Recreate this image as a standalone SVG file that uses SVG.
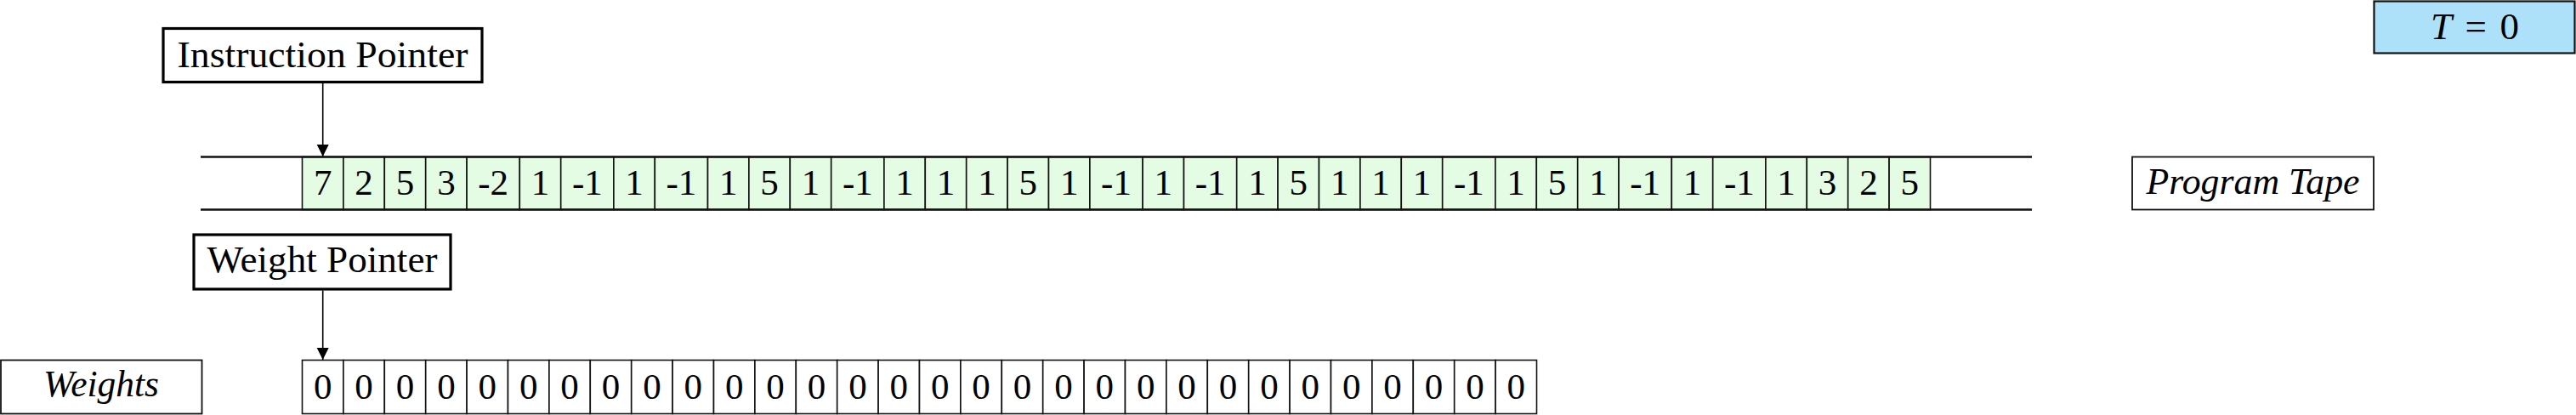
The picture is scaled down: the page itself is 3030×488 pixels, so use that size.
<svg xmlns="http://www.w3.org/2000/svg" width="3030" height="488" viewBox="0 0 3030 488">
<defs>
<style>
text{font-family:'Liberation Serif','Times New Roman',Times,serif}
.lbl{font-size:45px;fill:#000;text-anchor:middle}
.it{font-style:italic}
.num{font-size:43px;fill:#000;text-anchor:middle}
.cell{fill:#e3fce3;stroke:#111;stroke-width:1.6}
.wcell{fill:#fff;stroke:#111;stroke-width:1.6}
.tape{stroke:#111;stroke-width:2.4;fill:none}
.ptr{fill:#fff;stroke:#000;stroke-width:3.2}
.box{fill:#fff;stroke:#111;stroke-width:1.8}
.conn{stroke:#000;stroke-width:1.6;fill:none}
</style>
<marker id="ah" markerUnits="userSpaceOnUse" markerWidth="14" markerHeight="16" viewBox="0 0 14 16" refX="14" refY="7" orient="auto">
<path d="M0,0 L14,7 L0,14 Z" fill="#000"/>
</marker>
</defs>
<rect width="3030" height="488" fill="#fff"/>

<g id="time">
<rect x="2792.5" y="1.5" width="236" height="61" fill="#ade1f9" stroke="#111" stroke-width="2.2"/>
<text class="lbl" x="2911" y="46" textLength="104" lengthAdjust="spacing"><tspan class="it">T</tspan> = 0</text>
</g>

<g id="instruction-pointer">
<rect class="ptr" x="192" y="33.5" width="375" height="63"/>
<text class="lbl" x="379.5" y="79" textLength="342" lengthAdjust="spacingAndGlyphs">Instruction Pointer</text>
</g>

<g id="weight-pointer">
<rect class="ptr" x="228" y="276" width="302" height="64"/>
<text class="lbl" x="379" y="320" textLength="271" lengthAdjust="spacingAndGlyphs">Weight Pointer</text>
</g>

<g id="weights-label">
<rect class="box" x="1" y="423.5" width="236.5" height="63"/>
<text class="lbl it" x="119" y="466" textLength="136" lengthAdjust="spacingAndGlyphs">Weights</text>
</g>

<g id="program-tape-label">
<rect class="box" x="2508" y="184.5" width="284" height="62"/>
<text class="lbl it" x="2650" y="228" textLength="251" lengthAdjust="spacingAndGlyphs">Program Tape</text>
</g>

<g id="program-tape">
<rect class="cell" x="355.5" y="184.5" width="48.4" height="62"/><text class="num" x="379.7" y="229">7</text>
<rect class="cell" x="403.9" y="184.5" width="48.4" height="62"/><text class="num" x="428.1" y="229">2</text>
<rect class="cell" x="452.3" y="184.5" width="48.4" height="62"/><text class="num" x="476.5" y="229">5</text>
<rect class="cell" x="500.7" y="184.5" width="48.4" height="62"/><text class="num" x="524.9" y="229">3</text>
<rect class="cell" x="549.1" y="184.5" width="62.2" height="62"/><text class="num" x="580.2" y="229">-2</text>
<rect class="cell" x="611.3" y="184.5" width="48.4" height="62"/><text class="num" x="635.5" y="229">1</text>
<rect class="cell" x="659.7" y="184.5" width="62.2" height="62"/><text class="num" x="690.8" y="229">-1</text>
<rect class="cell" x="721.9" y="184.5" width="48.4" height="62"/><text class="num" x="746.1" y="229">1</text>
<rect class="cell" x="770.3" y="184.5" width="62.2" height="62"/><text class="num" x="801.4" y="229">-1</text>
<rect class="cell" x="832.5" y="184.5" width="48.4" height="62"/><text class="num" x="856.7" y="229">1</text>
<rect class="cell" x="880.9" y="184.5" width="48.4" height="62"/><text class="num" x="905.1" y="229">5</text>
<rect class="cell" x="929.3" y="184.5" width="48.4" height="62"/><text class="num" x="953.5" y="229">1</text>
<rect class="cell" x="977.7" y="184.5" width="62.2" height="62"/><text class="num" x="1008.8" y="229">-1</text>
<rect class="cell" x="1039.9" y="184.5" width="48.4" height="62"/><text class="num" x="1064.1" y="229">1</text>
<rect class="cell" x="1088.3" y="184.5" width="48.4" height="62"/><text class="num" x="1112.5" y="229">1</text>
<rect class="cell" x="1136.7" y="184.5" width="48.4" height="62"/><text class="num" x="1160.9" y="229">1</text>
<rect class="cell" x="1185.1" y="184.5" width="48.4" height="62"/><text class="num" x="1209.3" y="229">5</text>
<rect class="cell" x="1233.5" y="184.5" width="48.4" height="62"/><text class="num" x="1257.7" y="229">1</text>
<rect class="cell" x="1281.9" y="184.5" width="62.2" height="62"/><text class="num" x="1313.0" y="229">-1</text>
<rect class="cell" x="1344.1" y="184.5" width="48.4" height="62"/><text class="num" x="1368.3" y="229">1</text>
<rect class="cell" x="1392.5" y="184.5" width="62.2" height="62"/><text class="num" x="1423.6" y="229">-1</text>
<rect class="cell" x="1454.7" y="184.5" width="48.4" height="62"/><text class="num" x="1478.9" y="229">1</text>
<rect class="cell" x="1503.1" y="184.5" width="48.4" height="62"/><text class="num" x="1527.3" y="229">5</text>
<rect class="cell" x="1551.5" y="184.5" width="48.4" height="62"/><text class="num" x="1575.7" y="229">1</text>
<rect class="cell" x="1599.9" y="184.5" width="48.4" height="62"/><text class="num" x="1624.1" y="229">1</text>
<rect class="cell" x="1648.3" y="184.5" width="48.4" height="62"/><text class="num" x="1672.5" y="229">1</text>
<rect class="cell" x="1696.7" y="184.5" width="62.2" height="62"/><text class="num" x="1727.8" y="229">-1</text>
<rect class="cell" x="1758.9" y="184.5" width="48.4" height="62"/><text class="num" x="1783.1" y="229">1</text>
<rect class="cell" x="1807.3" y="184.5" width="48.4" height="62"/><text class="num" x="1831.5" y="229">5</text>
<rect class="cell" x="1855.7" y="184.5" width="48.4" height="62"/><text class="num" x="1879.9" y="229">1</text>
<rect class="cell" x="1904.1" y="184.5" width="62.2" height="62"/><text class="num" x="1935.2" y="229">-1</text>
<rect class="cell" x="1966.3" y="184.5" width="48.4" height="62"/><text class="num" x="1990.5" y="229">1</text>
<rect class="cell" x="2014.7" y="184.5" width="62.2" height="62"/><text class="num" x="2045.8" y="229">-1</text>
<rect class="cell" x="2076.9" y="184.5" width="48.4" height="62"/><text class="num" x="2101.1" y="229">1</text>
<rect class="cell" x="2125.3" y="184.5" width="48.4" height="62"/><text class="num" x="2149.5" y="229">3</text>
<rect class="cell" x="2173.7" y="184.5" width="48.4" height="62"/><text class="num" x="2197.9" y="229">2</text>
<rect class="cell" x="2222.1" y="184.5" width="48.4" height="62"/><text class="num" x="2246.3" y="229">5</text>
<line class="tape" x1="236" y1="184.5" x2="2390" y2="184.5"/>
<line class="tape" x1="236" y1="246.5" x2="2390" y2="246.5"/>
</g>

<g id="weights">
<rect class="wcell" x="355.5" y="423.5" width="48.4" height="63"/><text class="num" x="379.7" y="469">0</text>
<rect class="wcell" x="403.9" y="423.5" width="48.4" height="63"/><text class="num" x="428.1" y="469">0</text>
<rect class="wcell" x="452.3" y="423.5" width="48.4" height="63"/><text class="num" x="476.5" y="469">0</text>
<rect class="wcell" x="500.7" y="423.5" width="48.4" height="63"/><text class="num" x="524.9" y="469">0</text>
<rect class="wcell" x="549.1" y="423.5" width="48.4" height="63"/><text class="num" x="573.3" y="469">0</text>
<rect class="wcell" x="597.5" y="423.5" width="48.4" height="63"/><text class="num" x="621.7" y="469">0</text>
<rect class="wcell" x="645.9" y="423.5" width="48.4" height="63"/><text class="num" x="670.1" y="469">0</text>
<rect class="wcell" x="694.3" y="423.5" width="48.4" height="63"/><text class="num" x="718.5" y="469">0</text>
<rect class="wcell" x="742.7" y="423.5" width="48.4" height="63"/><text class="num" x="766.9" y="469">0</text>
<rect class="wcell" x="791.1" y="423.5" width="48.4" height="63"/><text class="num" x="815.3" y="469">0</text>
<rect class="wcell" x="839.5" y="423.5" width="48.4" height="63"/><text class="num" x="863.7" y="469">0</text>
<rect class="wcell" x="887.9" y="423.5" width="48.4" height="63"/><text class="num" x="912.1" y="469">0</text>
<rect class="wcell" x="936.3" y="423.5" width="48.4" height="63"/><text class="num" x="960.5" y="469">0</text>
<rect class="wcell" x="984.7" y="423.5" width="48.4" height="63"/><text class="num" x="1008.9" y="469">0</text>
<rect class="wcell" x="1033.1" y="423.5" width="48.4" height="63"/><text class="num" x="1057.3" y="469">0</text>
<rect class="wcell" x="1081.5" y="423.5" width="48.4" height="63"/><text class="num" x="1105.7" y="469">0</text>
<rect class="wcell" x="1129.9" y="423.5" width="48.4" height="63"/><text class="num" x="1154.1" y="469">0</text>
<rect class="wcell" x="1178.3" y="423.5" width="48.4" height="63"/><text class="num" x="1202.5" y="469">0</text>
<rect class="wcell" x="1226.7" y="423.5" width="48.4" height="63"/><text class="num" x="1250.9" y="469">0</text>
<rect class="wcell" x="1275.1" y="423.5" width="48.4" height="63"/><text class="num" x="1299.3" y="469">0</text>
<rect class="wcell" x="1323.5" y="423.5" width="48.4" height="63"/><text class="num" x="1347.7" y="469">0</text>
<rect class="wcell" x="1371.9" y="423.5" width="48.4" height="63"/><text class="num" x="1396.1" y="469">0</text>
<rect class="wcell" x="1420.3" y="423.5" width="48.4" height="63"/><text class="num" x="1444.5" y="469">0</text>
<rect class="wcell" x="1468.7" y="423.5" width="48.4" height="63"/><text class="num" x="1492.9" y="469">0</text>
<rect class="wcell" x="1517.1" y="423.5" width="48.4" height="63"/><text class="num" x="1541.3" y="469">0</text>
<rect class="wcell" x="1565.5" y="423.5" width="48.4" height="63"/><text class="num" x="1589.7" y="469">0</text>
<rect class="wcell" x="1613.9" y="423.5" width="48.4" height="63"/><text class="num" x="1638.1" y="469">0</text>
<rect class="wcell" x="1662.3" y="423.5" width="48.4" height="63"/><text class="num" x="1686.5" y="469">0</text>
<rect class="wcell" x="1710.7" y="423.5" width="48.4" height="63"/><text class="num" x="1734.9" y="469">0</text>
<rect class="wcell" x="1759.1" y="423.5" width="48.4" height="63"/><text class="num" x="1783.3" y="469">0</text>
</g>

<g id="connectors">
<line class="conn" x1="379.7" y1="97" x2="379.7" y2="184" marker-end="url(#ah)"/>
<line class="conn" x1="379.7" y1="341.5" x2="379.7" y2="423" marker-end="url(#ah)"/>
</g>
</svg>
